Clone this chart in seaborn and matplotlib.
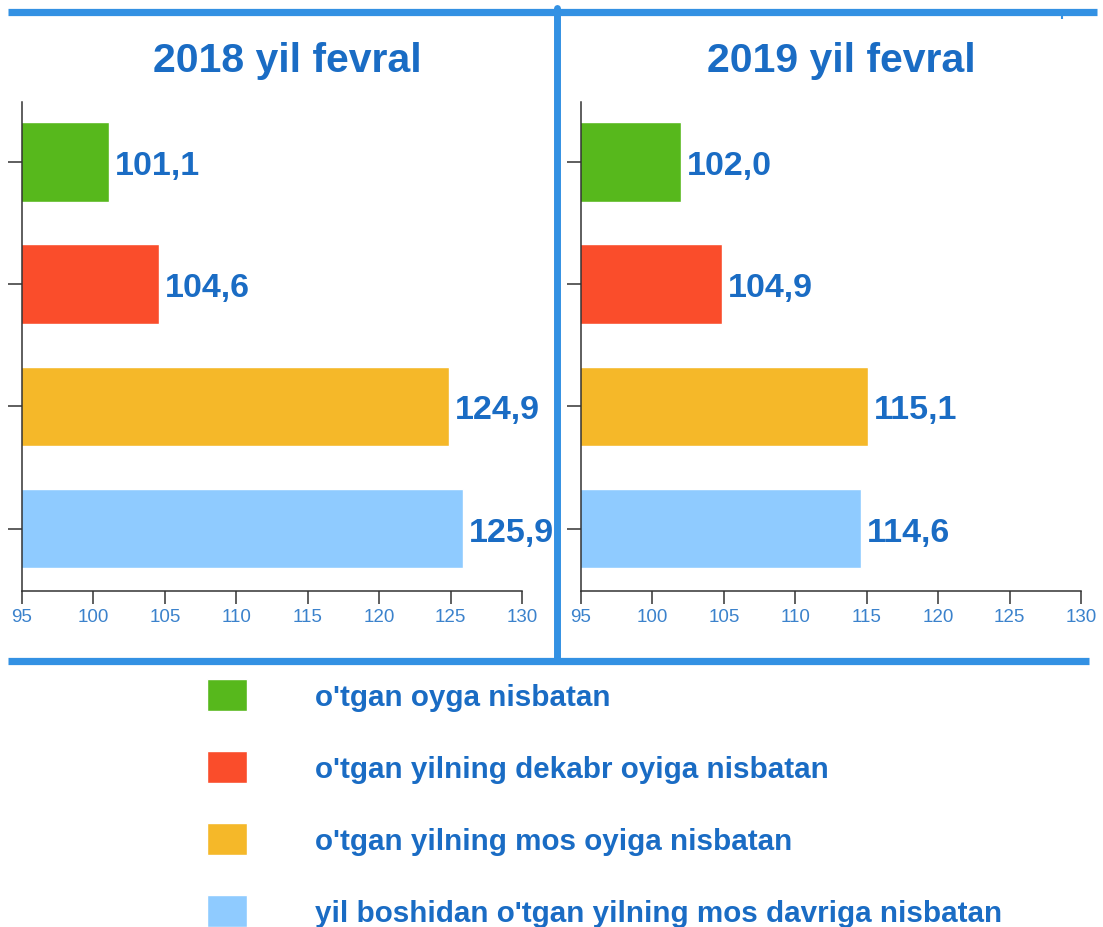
import matplotlib
matplotlib.use("Agg")
import matplotlib.pyplot as plt
from matplotlib.lines import Line2D
import seaborn as sns
import pandas as pd

# ---- data ----
categories = [
    "o'tgan oyga nisbatan",
    "o'tgan yilning dekabr oyiga nisbatan",
    "o'tgan yilning mos oyiga nisbatan",
    "yil boshidan o'tgan yilning mos davriga nisbatan",
]
values_2018 = [101.1, 104.6, 124.9, 125.9]
values_2019 = [102.0, 104.9, 115.1, 114.6]
panel_titles = ["2018 yil fevral", "2019 yil fevral"]
x_ticks = [95, 100, 105, 110, 115, 120, 125, 130]
colors = ["#57b81c", "#fa4d2b", "#f5b829", "#8fcbff"]

sns.set_theme(style="white")
plt.rcParams["font.family"] = ["Liberation Sans", "DejaVu Sans"]

W, H = 1103, 928
fig = plt.figure(figsize=(W / 100, H / 100), dpi=100)
fig.patch.set_facecolor("white")

TXT = "#1a6cc4"
TICK = "#3b82cc"
FRAME = "#3391e3"

def px_rect(x0, x1, ytop, ybot):
    return [x0 / W, 1 - ybot / H, (x1 - x0) / W, (ybot - ytop) / H]

axes_pos = [px_rect(22, 522, 103, 592), px_rect(581, 1081, 103, 592)]
title_x = [287, 841]

for pos, vals, title, tx in zip(axes_pos, [values_2018, values_2019], panel_titles, title_x):
    ax = fig.add_axes(pos)
    df = pd.DataFrame({"category": categories, "value": vals})
    sns.barplot(data=df, x="value", y="category", hue="category",
                palette=colors, orient="h", width=0.65, ax=ax,
                legend=False, saturation=1)
    ax.set_xlim(95, 130)
    ax.set_ylim(3.51, -0.49)
    ax.set_xticks(x_ticks)
    ax.set_xticklabels([str(t) for t in x_ticks])
    ax.set_yticks(range(len(categories)))
    ax.set_yticklabels([])
    ax.set_xlabel("")
    ax.set_ylabel("")
    for s in ["top", "right"]:
        ax.spines[s].set_visible(False)
    for s in ["left", "bottom"]:
        ax.spines[s].set_color("#333333")
        ax.spines[s].set_linewidth(1.1)
    ax.tick_params(axis="x", direction="out", length=9.5, width=1.1, color="#333333",
                   labelcolor=TICK, labelsize=13.5, pad=3, bottom=True)
    ax.tick_params(axis="y", direction="out", length=10, width=1.1, color="#333333",
                   left=True)
    ax.set_facecolor("white")
    for cont, v in zip(ax.containers, vals):
        anns = ax.bar_label(cont, labels=[f"{v:.1f}".replace(".", ",")], padding=4,
                            fontsize=24.5, fontweight="bold", color=TXT, clip_on=False)
        for a in anns:
            a.set_va("center_baseline")
    fig.text(tx / W, 1 - 61 / H, title, ha="center", va="center",
             fontsize=29.5, fontweight="bold", color=TXT)
    handles = ax.containers

# legend
fig.legend(handles, categories, loc="upper left",
           bbox_to_anchor=(207 / W, 1 - 680 / H), frameon=False,
           borderpad=0, borderaxespad=0, fontsize=21.3,
           handlelength=1.35, handleheight=1.28, handletextpad=2.3,
           labelspacing=1.36, labelcolor=TXT,
           prop={"weight": "bold", "size": 21.3})

# frame lines (pixel coordinates -> figure fraction)
def fline(x0, y0, x1, y1, lw, cap="butt"):
    fig.add_artist(Line2D([x0 / W, x1 / W], [1 - y0 / H, 1 - y1 / H],
                          transform=fig.transFigure, color=FRAME, linewidth=lw,
                          solid_capstyle=cap))

fline(8, 12.5, 1097, 12.5, 5.2)
fline(556.5, 9, 556.5, 662, 5.0, cap="round")
fline(8, 661.5, 1089, 661.5, 5.2)
fline(1062, 12, 1062, 20, 1.5)

fig.savefig("out.png", dpi=100, facecolor="white")
